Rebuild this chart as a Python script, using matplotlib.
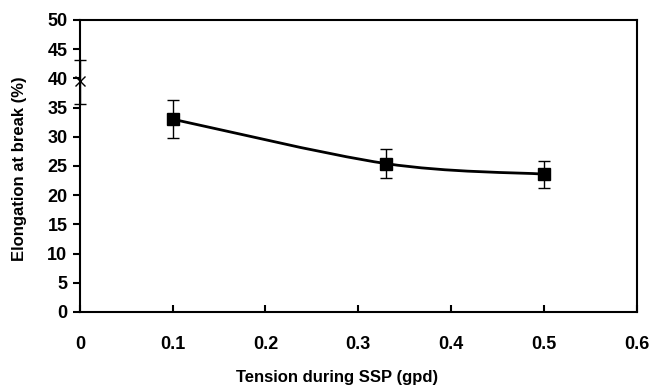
import numpy as np
import matplotlib.pyplot as plt
from matplotlib.path import Path
from matplotlib.patches import PathPatch

plt.rcParams['font.family'] = ['Liberation Sans', 'DejaVu Sans']
plt.rcParams['font.weight'] = 'bold'

# measured series (square markers, smoothed line)
tension = [0.1, 0.33, 0.5]
elong = [33.0, 25.4, 23.6]
elong_err = [3.3, 2.5, 2.3]

# reference point at zero tension (cross marker)
ref_x = [0.0]
ref_y = [39.6]
ref_lo = [4.0]
ref_hi = [3.6]

xticks = [0, 0.1, 0.2, 0.3, 0.4, 0.5, 0.6]
xticklabels = ['0', '0.1', '0.2', '0.3', '0.4', '0.5', '0.6']
yticks = list(range(0, 51, 5))


def smooth_path(x, y, t=1/6):
    # Catmull-Rom style bezier through the points (like a spreadsheet smoothed line)
    x = np.asarray(x, float)
    y = np.asarray(y, float)
    px = np.concatenate([[x[0]], x, [x[-1]]])
    py = np.concatenate([[y[0]], y, [y[-1]]])
    verts = [(x[0], y[0])]
    codes = [Path.MOVETO]
    for i in range(1, len(x)):
        c1 = (px[i] + (px[i + 1] - px[i - 1]) * t, py[i] + (py[i + 1] - py[i - 1]) * t)
        c2 = (px[i + 1] - (px[i + 2] - px[i]) * t, py[i + 1] - (py[i + 2] - py[i]) * t)
        verts += [c1, c2, (x[i], y[i])]
        codes += [Path.CURVE4] * 3
    return Path(verts, codes)


fig = plt.figure(figsize=(6.55, 3.9), dpi=100)
ax = fig.add_axes([0.122, 0.2, 0.85, 0.749])

ax.add_patch(PathPatch(smooth_path(tension, elong), fill=False, lw=2, edgecolor='black', zorder=2))
ax.errorbar(tension, elong, yerr=elong_err, fmt='none', ecolor='black', elinewidth=1, capsize=4, zorder=3)
ax.plot(tension, elong, 's', color='black', markersize=9, zorder=4)

ax.errorbar(ref_x, ref_y, yerr=[ref_lo, ref_hi], fmt='x', color='black', markersize=7,
            elinewidth=1, capsize=4, clip_on=False, zorder=5)

ax.set_xlim(0, 0.6)
ax.set_ylim(0, 50)
ax.set_xticks(xticks)
ax.set_xticklabels(xticklabels)
ax.set_yticks(yticks)
ax.tick_params(axis='x', direction='in', length=5, width=1.5, pad=17, labelsize=13)
ax.tick_params(axis='y', direction='out', length=5, width=1.5, pad=4, labelsize=13)
for s in ax.spines.values():
    s.set_linewidth(1.5)

ax.set_xlabel('Tension during SSP (gpd)', fontsize=12, fontweight='bold')
ax.set_ylabel('Elongation at break (%)', fontsize=12, fontweight='bold')
ax.xaxis.set_label_coords(0.461, -0.2)
ax.yaxis.set_label_coords(-0.095, 0.49)

fig.savefig('out.png', dpi=100)
